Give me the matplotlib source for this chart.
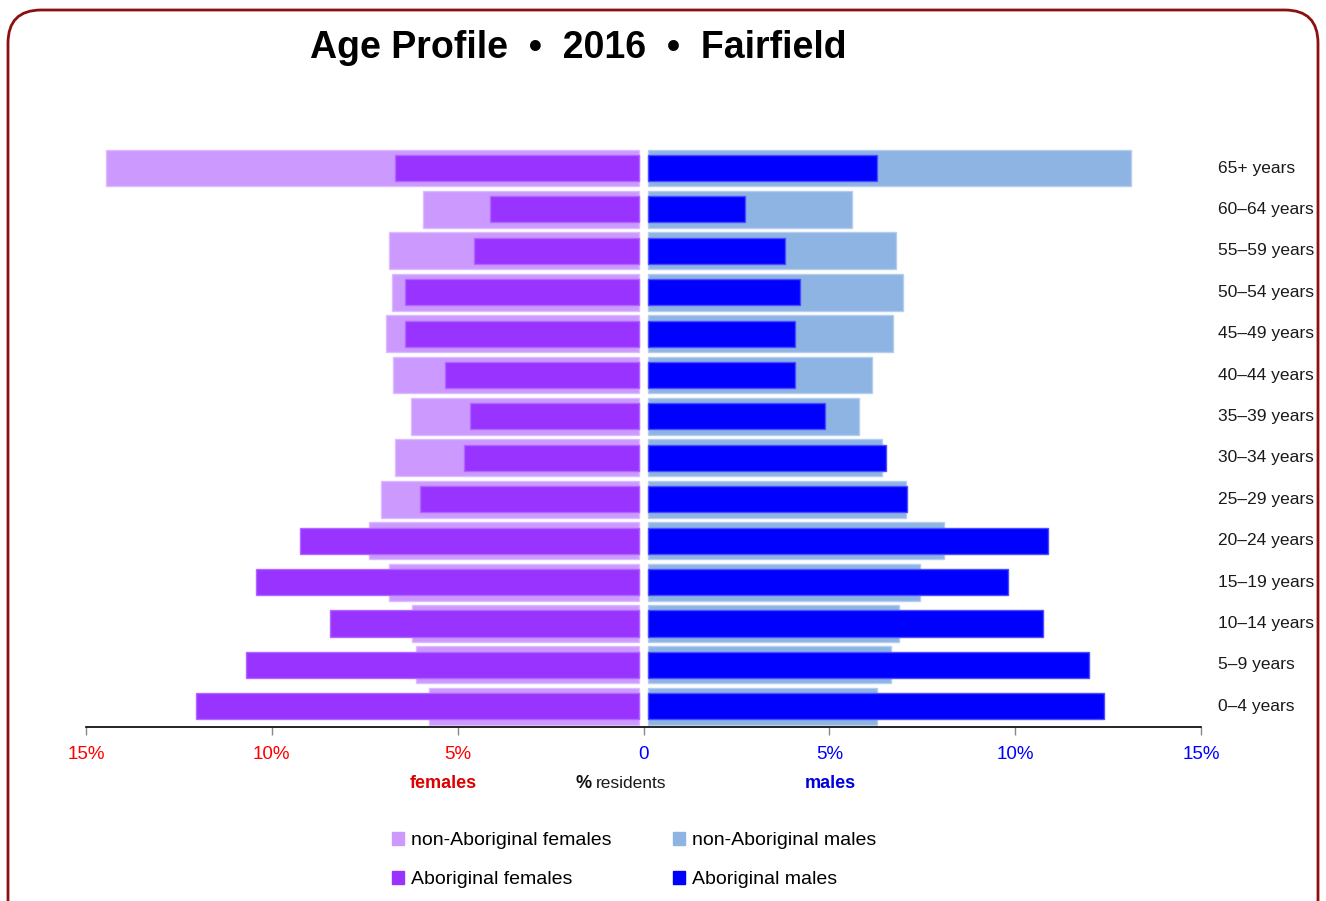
import matplotlib
matplotlib.use("Agg")
import matplotlib.pyplot as plt
from matplotlib.patches import FancyBboxPatch, Patch

# age groups, bottom to top
ages = ['0–4 years', '5–9 years', '10–14 years', '15–19 years', '20–24 years',
        '25–29 years', '30–34 years', '35–39 years', '40–44 years', '45–49 years',
        '50–54 years', '55–59 years', '60–64 years', '65+ years']

# % residents (same order as ages)
non_abor_f = [5.77, 6.11, 6.24, 6.86, 7.38, 7.05, 6.68, 6.25, 6.75, 6.92, 6.77, 6.85, 5.94, 14.47]
abor_f = [12.04, 10.70, 8.43, 10.43, 9.24, 6.02, 4.82, 4.68, 5.35, 6.41, 6.41, 4.55, 4.14, 6.68]
non_abor_m = [6.28, 6.66, 6.88, 7.44, 8.09, 7.07, 6.43, 5.81, 6.16, 6.70, 6.98, 6.79, 5.60, 13.12]
abor_m = [12.40, 11.99, 10.76, 9.81, 10.89, 7.08, 6.53, 4.89, 4.08, 4.08, 4.22, 3.82, 2.73, 6.27]

xticks = [-15, -10, -5, 0, 5, 10, 15]
xtick_labels = ['15%', '10%', '5%', '0', '5%', '10%', '15%']

c_naf = '#CC99FF'
c_af = '#9933FF'
c_nam = '#8DB4E2'
c_am = '#0000FF'

plt.rcParams['font.family'] = ['Liberation Sans', 'DejaVu Sans']

W, H = 1326, 901
fig = plt.figure(figsize=(W / 100, H / 100), dpi=100)
fig.patch.set_facecolor('white')

# rounded frame
frame = FancyBboxPatch((8 / W, -0.1), 1310 / W, 1 - 10 / H + 0.1,
                       boxstyle='round,pad=0,rounding_size=0.025',
                       mutation_aspect=W / H, transform=fig.transFigure,
                       facecolor='none', edgecolor='#8B1010', linewidth=2, zorder=-1)
fig.patches.append(frame)

ax = fig.add_axes([86 / W, 1 - 727 / H, 1115 / W, (727 - 147.3) / H])
ax.patch.set_alpha(0)

y = list(range(len(ages)))
gap = 0.12  # small gap either side of zero

ax.barh(y, [-(v - gap) for v in non_abor_f], left=-gap, height=0.89,
        color=c_naf, edgecolor='#DDBBFF', linewidth=1)
ax.barh(y, [-(v - gap) for v in abor_f], left=-gap, height=0.63,
        color=c_af, edgecolor='#B066FF', linewidth=1)
ax.barh(y, [v - gap for v in non_abor_m], left=gap, height=0.89,
        color=c_nam, edgecolor='#B5CDEE', linewidth=1)
ax.barh(y, [v - gap for v in abor_m], left=gap, height=0.63,
        color=c_am, edgecolor='#4D4DFF', linewidth=1)

ax.set_xlim(-15, 15)
ax.set_ylim(-0.5, len(ages) - 0.5)
ax.set_yticks([])
for s in ['top', 'right', 'left']:
    ax.spines[s].set_visible(False)
ax.spines['bottom'].set_linewidth(1.2)
ax.set_xticks(xticks)
ax.set_xticklabels(xtick_labels, fontsize=13.5)
ax.tick_params(axis='x', length=6, width=1, color='#888888', pad=8)
for lbl, t in zip(ax.get_xticklabels(), xticks):
    lbl.set_color('#FF0000' if t < 0 else '#0000FF')

# age labels on the right
for yi, a in zip(y, ages):
    ax.text(15.45, yi, a, ha='left', va='center', fontsize=12.5, color='#1a1a1a')

# title
fig.text(578 / W, 1 - 48 / H, 'Age Profile  •  2016  •  Fairfield',
         ha='center', va='center', fontsize=27, fontweight='bold')

# axis captions
fig.text(443 / W, 1 - 783 / H, 'females', ha='center', va='center',
         fontsize=13, fontweight='bold', color='#DD0000')
fig.text(592 / W, 1 - 783 / H, '%', ha='right', va='center',
         fontsize=13, fontweight='bold', color='#111111')
fig.text(596 / W, 1 - 783 / H, 'residents', ha='left', va='center',
         fontsize=12.5, color='#1a1a1a')
fig.text(830 / W, 1 - 783 / H, 'males', ha='center', va='center',
         fontsize=13, fontweight='bold', color='#0000DD')

handles = [Patch(color=c_naf, label='non-Aboriginal females'),
           Patch(color=c_af, label='Aboriginal females'),
           Patch(color=c_nam, label='non-Aboriginal males'),
           Patch(color=c_am, label='Aboriginal males')]
fig.legend(handles=handles, ncol=2, loc='center', bbox_to_anchor=(634 / W, 1 - 860 / H),
           frameon=False, fontsize=14, handlelength=0.65, handleheight=0.65,
           handletextpad=0.35, columnspacing=3.15, labelspacing=1.1)

fig.savefig('out.png', dpi=100)
